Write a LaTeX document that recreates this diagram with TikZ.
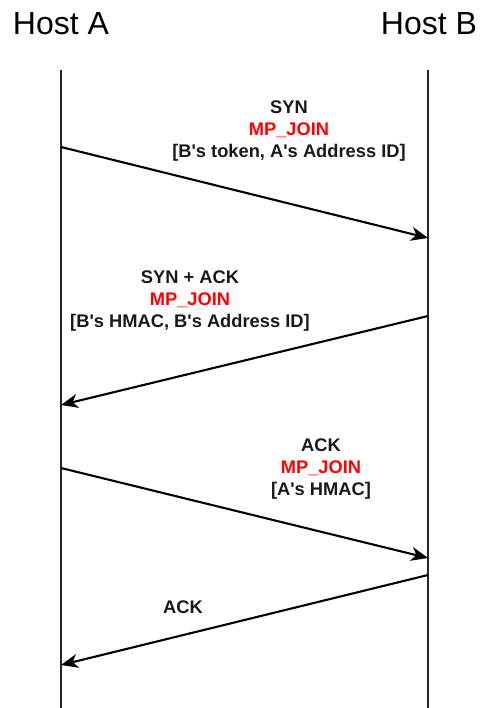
\documentclass[tikz,border=0pt]{standalone}
\usepackage{fontspec}
\setmainfont{Liberation Sans}[Ligatures=TeXOff]
\usetikzlibrary{arrows.meta}
\definecolor{msgred}{HTML}{FF0000}
\definecolor{lifegray}{HTML}{262626}
\begin{document}
\begin{tikzpicture}[x=1pt,y=-1pt,
  host/.style={font=\fontsize{32}{37}\selectfont, inner sep=0pt},
  lifeline/.style={draw=lifegray, line width=2.4pt},
  msg/.style={draw=black, line width=2.1pt,
    -{Stealth[length=17pt,width=14pt,inset=5pt]}},
  msglabel/.style={font=\bfseries\fontsize{18.3}{21.7}\selectfont,
    align=center, inner sep=0pt, text=black!90},
  opt/.style={text=msgred}]
\useasboundingbox (0,0) rectangle (479,708);

% host headers
\node[host] (hostA) at (61,24) {Host A};
\node[host] (hostB) at (429,24) {Host B};

% lifelines
\coordinate (Atop) at (61,70);
\coordinate (Abot) at (61,708);
\coordinate (Btop) at (428,70);
\coordinate (Bbot) at (428,708);
\draw[lifeline] (Atop) -- (Abot);
\draw[lifeline] (Btop) -- (Bbot);

% message end points on the lifelines
\coordinate (a1) at (61,147);
\coordinate (b1) at (428,238);
\coordinate (b2) at (428,316);
\coordinate (a2) at (61,405);
\coordinate (a3) at (61,468);
\coordinate (b3) at (428,558);
\coordinate (b4) at (428,575);
\coordinate (a4) at (61,665);

% messages
\draw[msg] (a1) -- (b1);
\draw[msg] (b2) -- (a2);
\draw[msg] (a3) -- (b3);
\draw[msg] (b4) -- (a4);

% message labels
\node[msglabel] (l1) at (289,131)
  {SYN\\{\color{msgred}MP\_JOIN}\\{}[B's token, A's Address ID]};
\node[msglabel] (l2) at (190,301)
  {SYN + ACK\\{\color{msgred}MP\_JOIN}\\{}[B's HMAC, B's Address ID]};
\node[msglabel] (l3) at (321,469)
  {ACK\\{\color{msgred}MP\_JOIN}\\{}[A's HMAC]};
\node[msglabel] (l4) at (183,607) {ACK};
\end{tikzpicture}
\end{document}
